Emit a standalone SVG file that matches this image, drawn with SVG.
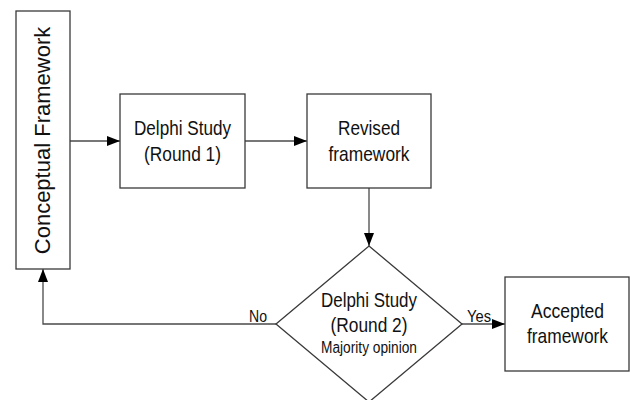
<svg xmlns="http://www.w3.org/2000/svg" width="630" height="400" viewBox="0 0 630 400">
  <style>
    .box { fill: #ffffff; stroke: #3a3a3a; stroke-width: 1.3; }
    .conn { fill: none; stroke: #4a4a4a; stroke-width: 1.3; }
    text { font-family: "Liberation Sans", Arial, sans-serif; fill: #111111; text-anchor: middle; }
    .main { font-size: 21px; }
    .small { font-size: 16px; }
    .lbl { font-size: 16px; text-anchor: start; }
  </style>
  <defs>
    <marker id="arrow" markerUnits="userSpaceOnUse" markerWidth="13" markerHeight="10" refX="13" refY="5" orient="auto">
      <path d="M0,0 L13,5 L0,10 z" fill="#000000"/>
    </marker>
  </defs>
  <rect width="630" height="400" fill="#ffffff"/>

  <g id="connectors">
    <path class="conn" d="M70,141 H120" marker-end="url(#arrow)"/>
    <path class="conn" d="M245,141 H307" marker-end="url(#arrow)"/>
    <path class="conn" d="M369,188 V246" marker-end="url(#arrow)"/>
    <path class="conn" d="M276,324 H43 V269" marker-end="url(#arrow)"/>
    <path class="conn" d="M462,324 H505" marker-end="url(#arrow)"/>
    <text class="lbl" x="249" y="321.5" textLength="18" lengthAdjust="spacingAndGlyphs">No</text>
    <text class="lbl" x="467" y="321.5" textLength="24" lengthAdjust="spacingAndGlyphs">Yes</text>
  </g>

  <g id="conceptual">
    <rect class="box" x="16" y="11" width="54" height="258"/>
    <text style="font-size:22px" transform="translate(50,140.5) rotate(-90)" x="0" y="0">Conceptual Framework</text>
  </g>

  <g id="delphi1">
    <rect class="box" x="120" y="94" width="125" height="94"/>
    <text class="main" x="182.5" y="135" textLength="97" lengthAdjust="spacingAndGlyphs">Delphi Study</text>
    <text class="main" x="182.5" y="160.5" textLength="77" lengthAdjust="spacingAndGlyphs">(Round 1)</text>
  </g>

  <g id="revised">
    <rect class="box" x="307" y="94" width="124" height="94"/>
    <text class="main" x="369" y="135" textLength="62" lengthAdjust="spacingAndGlyphs">Revised</text>
    <text class="main" x="369" y="160.5" textLength="81" lengthAdjust="spacingAndGlyphs">framework</text>
  </g>

  <g id="delphi2">
    <polygon class="box" points="369,246 462,324 369,402 276,324"/>
    <text class="main" x="369" y="307" textLength="96" lengthAdjust="spacingAndGlyphs">Delphi Study</text>
    <text class="main" x="369" y="332" textLength="77" lengthAdjust="spacingAndGlyphs">(Round 2)</text>
    <text class="small" x="369" y="353" textLength="96" lengthAdjust="spacingAndGlyphs">Majority opinion</text>
  </g>

  <g id="accepted">
    <rect class="box" x="505" y="277" width="124" height="94"/>
    <text class="main" x="567.5" y="317.5" textLength="73" lengthAdjust="spacingAndGlyphs">Accepted</text>
    <text class="main" x="567.5" y="343" textLength="81" lengthAdjust="spacingAndGlyphs">framework</text>
  </g>
</svg>
